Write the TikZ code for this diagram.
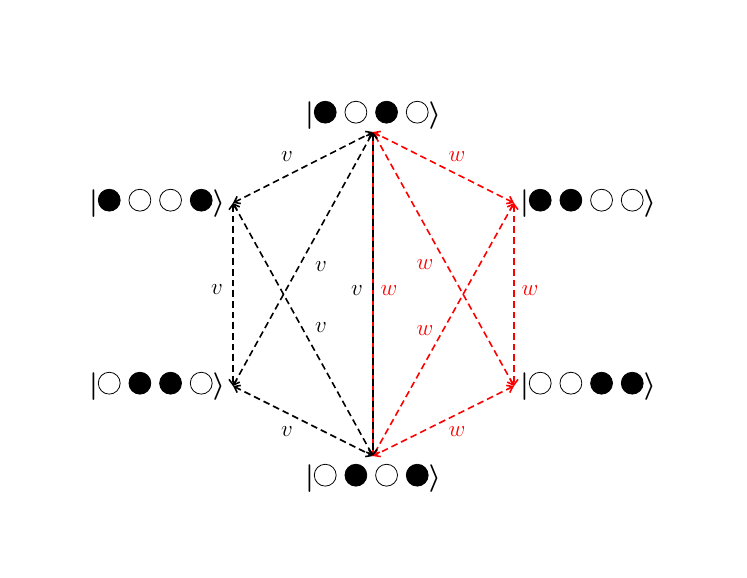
\documentclass[tikz,border=0pt]{standalone}
\usepackage{fontspec}
\setmainfont{Carlito}
\usetikzlibrary{arrows.meta}
\newcommand{\bcir}{\tikz[baseline=-0.75ex]\draw[fill=black,line width=0.6pt] (0,0) circle (8.2pt);}
\newcommand{\wcir}{\tikz[baseline=-0.75ex]\draw[line width=0.6pt] (0,0) circle (8.2pt);}
\newcommand{\ket}[4]{\fontsize{21}{24}\selectfont$\boldsymbol{|}$#1\hspace{6pt}#2\hspace{6pt}#3\hspace{6pt}#4$\boldsymbol{\rangle}$}
\usepackage{amsmath,bm}
\begin{document}
\begin{tikzpicture}[x=0.75pt,y=-0.75pt,
  kt/.style={inner sep=0pt},
  bl/.style={dash pattern=on 5pt off 3pt,line width=1.2pt,black,{Straight Barb[length=4pt,width=6pt]}-{Straight Barb[length=4pt,width=6pt]}},
  rl/.style={bl,red},
  lb/.style={font=\fontsize{18}{20}\selectfont},
  lr/.style={lb,text=red}]
\useasboundingbox (0,0) rectangle (747,578);
\node[kt] (T) at (373,115) {\ket{\bcir}{\wcir}{\bcir}{\wcir}};
\node[kt] (LT) at (157,203) {\ket{\bcir}{\wcir}{\wcir}{\bcir}};
\node[kt] (LB) at (157,386) {\ket{\wcir}{\bcir}{\bcir}{\wcir}};
\node[kt] (RT) at (588,203) {\ket{\bcir}{\bcir}{\wcir}{\wcir}};
\node[kt] (RB) at (588,386) {\ket{\wcir}{\wcir}{\bcir}{\bcir}};
\node[kt] (B) at (373,478) {\ket{\wcir}{\bcir}{\wcir}{\bcir}};
\coordinate (t) at (373,132);
\coordinate (b) at (373,456);
\coordinate (lu) at (233,203);
\coordinate (ld) at (233,386);
\coordinate (ru) at (514,203);
\coordinate (rd) at (514,386);
\draw[bl] (lu) -- (t);
\draw[bl] (lu) -- (ld);
\draw[bl] (lu) -- (b);
\draw[bl] (ld) -- (t);
\draw[bl] (ld) -- (b);
\draw[rl] (ru) -- (t);
\draw[rl] (ru) -- (rd);
\draw[rl] (ru) -- (b);
\draw[rl] (rd) -- (t);
\draw[rl] (rd) -- (b);
\draw[red,line width=1.4pt] (t) -- (b);
\draw[bl] (t) -- (b);
\node[lb] (v1) at (287,157) {$v$};
\node[lb] (v2) at (321,267) {$v$};
\node[lb] (v3) at (321,328) {$v$};
\node[lb] (v4) at (217,290) {$v$};
\node[lb] (v5) at (357,291) {$v$};
\node[lb] (v6) at (287,432) {$v$};
\node[lr] (w1) at (457,157) {$w$};
\node[lr] (w2) at (425,265) {$w$};
\node[lr] (w3) at (425,331) {$w$};
\node[lr] (w4) at (530,291) {$w$};
\node[lr] (w5) at (389,291) {$w$};
\node[lr] (w6) at (457,432) {$w$};
\end{tikzpicture}
\end{document}
